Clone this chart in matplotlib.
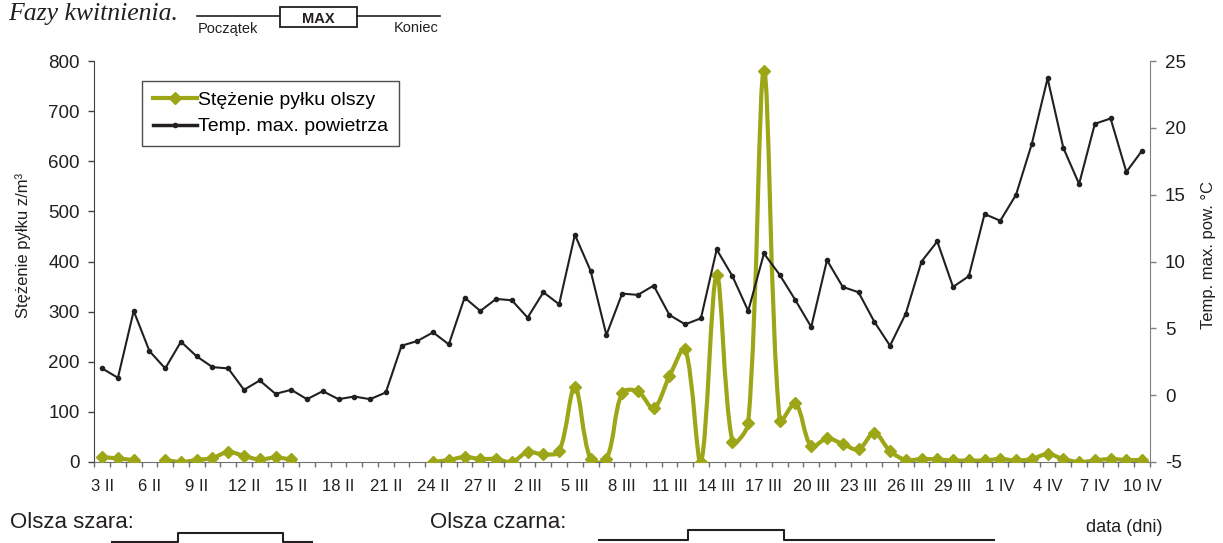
import numpy as np
import matplotlib
matplotlib.use("Agg")
import matplotlib.pyplot as plt
from matplotlib.path import Path
from matplotlib.patches import PathPatch, Rectangle
from matplotlib.lines import Line2D
from matplotlib.transforms import blended_transform_factory

plt.rcParams['font.family'] = ['Liberation Sans', 'DejaVu Sans']
plt.rcParams['axes.unicode_minus'] = False

# dni: 3 II - 10 IV
dates = ([f"{d} II" for d in range(3, 29)] +
         [f"{d} III" for d in range(1, 32)] +
         [f"{d} IV" for d in range(1, 11)])
tick_labels = dates[::3]

# stezenie pylku olszy (z/m3), None = brak pomiaru
pollen = [10, 7, 4, None, 4, 0, 4, 8, 20, 12, 5, 9, 5,
          None, None, None, None, None, None, None, None,
          0, 4, 10, 6, 6, 0, 20, 15, 21, 150, 5, 5, 138, 141, 107, 171, 226,
          0, 373, 40, 77, 780, 82, 117, 31, 47, 36, 25, 58, 22, 4,
          6, 5, 3, 3, 3, 6, 3, 6, 16, 6, 0, 3, 6, 4, 4]

# temperatura max. powietrza (C)
temp = [2.0, 1.3, 6.3, 3.3, 2.0, 4.0, 2.9, 2.1, 2.0, 0.4, 1.1, 0.1, 0.4,
        -0.3, 0.3, -0.3, -0.1, -0.3, 0.2, 3.7, 4.05, 4.7, 3.8, 7.3, 6.3, 7.2,
        7.1, 5.8, 7.7, 6.8, 12.0, 9.3, 4.5, 7.6, 7.5, 8.2, 6.0, 5.3, 5.75,
        10.9, 8.9, 6.3, 10.6, 9.0, 7.1, 5.1, 10.1, 8.1, 7.7, 5.5, 3.7, 6.1,
        10.0, 11.5, 8.1, 8.9, 13.55, 13.05, 15.0, 18.8, 23.7, 18.5, 15.8,
        20.3, 20.7, 16.7, 18.3]

# fazy kwitnienia (pozycja na osi dni): poczatek, max od, max do, koniec
szara_phase = [0.6, 4.8, 11.5, 13.3]
czarna_phase = [31.5, 37.2, 43.25, 56.6]

green = '#9CA617'
dark = '#231F20'
W, H = 1223, 543


def fx(px):
    return px / W


def fy(py):
    return 1 - py / H


def smooth_path(xs, ys, tr):
    # wygladzona linia w stylu Excela, liczona w pikselach
    pts = tr.transform(np.column_stack([xs, ys]).astype(float))
    n = len(pts)
    verts = [pts[0]]
    codes = [Path.MOVETO]
    for i in range(n - 1):
        p0 = pts[i - 1] if i > 0 else pts[i]
        p1 = pts[i]
        p2 = pts[i + 1]
        p3 = pts[i + 2] if i + 2 < n else pts[i + 1]
        d01 = np.hypot(*(p1 - p0))
        d12 = np.hypot(*(p2 - p1))
        d23 = np.hypot(*(p3 - p2))
        f1 = d12 / (d01 + d12) / 3 if d01 + d12 > 0 else 0
        f2 = d12 / (d12 + d23) / 3 if d12 + d23 > 0 else 0
        verts += [p1 + (p2 - p0) * f1, p2 - (p3 - p1) * f2, p2]
        codes += [Path.CURVE4] * 3
    return Path(tr.inverted().transform(np.array(verts)), codes)


fig = plt.figure(figsize=(12.23, 5.43), dpi=100)
ax = fig.add_axes([fx(94.3), fy(462), fx(1150 - 94.3), (462 - 61) / H])
ax2 = ax.twinx()

x = np.arange(len(dates))
p = np.array([np.nan if v is None else v for v in pollen], dtype=float)

ax.set_xlim(-0.5, len(dates) - 0.5)
ax.set_ylim(0, 800)
ax.set_yticks(np.arange(0, 801, 100))
ax2.set_ylim(-5, 25)
ax2.set_yticks(np.arange(-5, 26, 5))

# odcinki bez brakow
runs = []
cur = []
for i, v in enumerate(p):
    if np.isnan(v):
        if cur:
            runs.append(cur)
        cur = []
    else:
        cur.append(i)
if cur:
    runs.append(cur)

for r in runs:
    if len(r) > 1:
        ax.add_patch(PathPatch(smooth_path(x[r], p[r], ax.transData), facecolor='none',
                               edgecolor=green, lw=3.0, capstyle='round',
                               joinstyle='round', zorder=2))
ax.plot(x, p, ls='none', marker='D', ms=6.5, color=green,
        markeredgecolor=green, zorder=3)

ax2.plot(x, temp, color=dark, lw=1.5, marker='o', ms=3, zorder=4)

ax.set_xticks(x[::3])
ax.set_xticklabels(tick_labels)
ax.set_xticks(np.arange(-0.5, len(dates), 1), minor=True)
ax.tick_params(axis='x', which='major', length=0, pad=12.5, labelsize=12,
               labelcolor=dark)
ax.tick_params(axis='x', which='minor', length=3.6, width=1, color='#707070')
ax.tick_params(axis='y', length=4.3, width=1, pad=6, labelsize=13.5,
               labelcolor=dark, color='#404040')
ax2.tick_params(axis='y', length=4.3, width=1, pad=6.5, labelsize=13.5,
                labelcolor=dark, color='#808080')

for a in (ax, ax2):
    a.spines['top'].set_visible(False)
ax.spines['right'].set_visible(False)
ax2.spines['left'].set_visible(False)
ax2.spines['bottom'].set_visible(False)
ax.spines['left'].set_color('#404040')
ax.spines['bottom'].set_color('#707070')
ax2.spines['right'].set_color('#808080')

handles = [Line2D([], [], color=green, lw=3.0, marker='D', ms=6.5),
           Line2D([], [], color=dark, lw=2.5, marker='o', ms=3)]
leg = ax2.legend(handles, ['Stężenie pyłku olszy', 'Temp. max. powietrza'],
                 loc='upper left', bbox_to_anchor=((142 - 94.3) / 1055.7, (462 - 80.7) / 401),
                 borderaxespad=0, fontsize=14, frameon=True, fancybox=False,
                 edgecolor=dark, handlelength=2.3, handletextpad=0.05,
                 borderpad=0.55, labelspacing=0.45)
leg.get_frame().set_linewidth(1.0)
leg.set_zorder(10)

fig.text(fx(23), fy(245), 'Stężenie pyłku z/m³', rotation=90, ha='center',
         va='center', fontsize=12, color=dark)
fig.text(fx(1208), fy(255), 'Temp. max. pow. °C', rotation=90, ha='center',
         va='center', fontsize=12, color=dark)

# naglowek: fazy kwitnienia
fig.text(fx(8), fy(20), 'Fazy kwitnienia.', family=['Liberation Serif', 'DejaVu Serif'],
         style='italic', fontsize=18.5, color=dark, va='baseline')
fig.add_artist(Line2D([fx(197), fx(280)], [fy(16), fy(16)], color=dark, lw=1.2))
fig.add_artist(Line2D([fx(356.7), fx(440)], [fy(16), fy(16)], color=dark, lw=1.2))
fig.add_artist(Rectangle((fx(280), fy(26.7)), fx(76.7), (26.7 - 7.3) / H,
                         transform=fig.transFigure, facecolor='white',
                         edgecolor=dark, lw=1.3))
fig.text(fx(318.3), fy(23.3), 'MAX', ha='center', va='baseline', fontsize=10.5,
         fontweight='bold', color=dark)
fig.text(fx(198), fy(32.5), 'Początek', ha='left', va='baseline', fontsize=10.5, color=dark)
fig.text(fx(439), fy(32.5), 'Koniec', ha='right', va='baseline', fontsize=10.5, color=dark)

# fazy pod osia
trans = blended_transform_factory(ax.transData, fig.transFigure)
for ph, low, high in ((szara_phase, 542, 533), (czarna_phase, 540, 530)):
    s, m1, m2, e = ph
    ax.plot([s, m1, m1, m2, m2, e],
            [fy(low), fy(low), fy(high), fy(high), fy(low), fy(low)],
            color=dark, lw=1.5, transform=trans, clip_on=False)

fig.text(fx(10), fy(528), 'Olsza szara:', fontsize=16, va='baseline', color=dark)
fig.text(fx(430), fy(528), 'Olsza czarna:', fontsize=16, va='baseline', color=dark)
fig.text(fx(1163), fy(532.5), 'data (dni)', fontsize=13, ha='right', va='baseline', color=dark)

fig.savefig('out.png', dpi=100)
